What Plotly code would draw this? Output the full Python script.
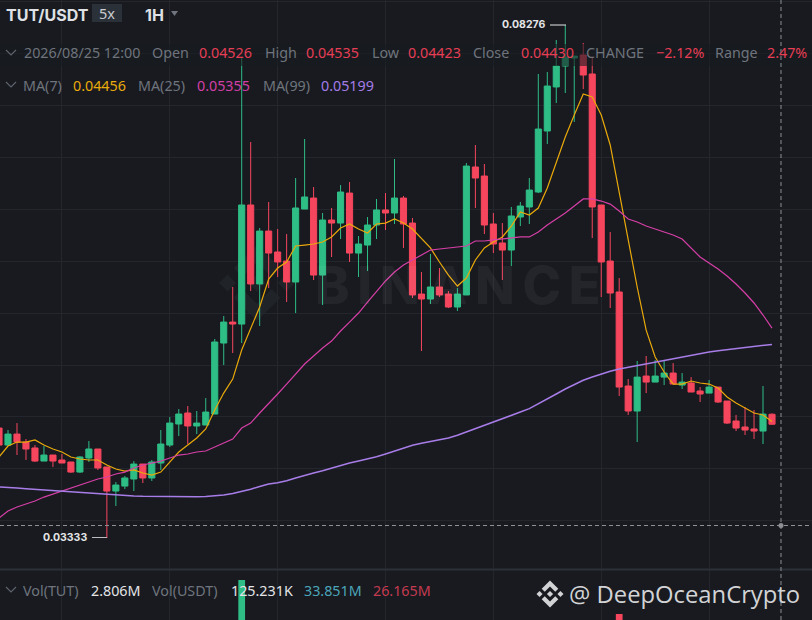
import plotly.graph_objects as go

W, H = 812, 620
BG = "#181a20"
GREEN = "#2ebd85"
RED = "#f6465d"
GRID = "#23272d"
FONT = "Noto Sans"

hours = list(range(-1, 86))

opens = [
    0.04393, 0.04229, 0.04335, 0.04258, 0.04201, 0.04075, 0.04133, 0.04085, 0.04066, 0.03969,
    0.04104, 0.04191, 0.04018, 0.03786, 0.03834, 0.03902, 0.04046, 0.03912, 0.04056, 0.04229,
    0.04432, 0.04538, 0.04413, 0.04422, 0.04528, 0.05212, 0.05414, 0.05395, 0.06542, 0.05781,
    0.06291, 0.06089, 0.06002, 0.05800, 0.06503, 0.06609, 0.05867, 0.06397, 0.06368, 0.06657,
    0.06079, 0.06156, 0.06349, 0.06494, 0.06465, 0.06609, 0.06368, 0.05684, 0.05636, 0.05752,
    0.05684, 0.05559, 0.05675, 0.06908, 0.06821, 0.06359, 0.06176, 0.06108, 0.06426, 0.06523,
    0.06667, 0.07255, 0.07679, 0.07881, 0.07958, 0.07987, 0.07804, 0.06542, 0.06002, 0.05704,
    0.04798, 0.04557, 0.04894, 0.04836, 0.04884, 0.04923, 0.04807, 0.04827, 0.04750, 0.04730,
    0.04788, 0.04653, 0.04461, 0.04403, 0.04384, 0.04364, 0.04526,
]
highs = [
    0.04422, 0.04374, 0.04441, 0.04287, 0.04229, 0.04220, 0.04133, 0.04143, 0.04066, 0.04123,
    0.04268, 0.04191, 0.04018, 0.03873, 0.03931, 0.04075, 0.04046, 0.04085, 0.04374, 0.04499,
    0.04576, 0.04605, 0.04557, 0.04682, 0.05251, 0.05472, 0.05752, 0.07958, 0.07149, 0.06320,
    0.06571, 0.06311, 0.06262, 0.06802, 0.07178, 0.06715, 0.06465, 0.06513, 0.06734, 0.06763,
    0.06243, 0.06426, 0.06600, 0.06657, 0.06985, 0.06629, 0.06417, 0.05896, 0.06070, 0.05935,
    0.05713, 0.05742, 0.06946, 0.07120, 0.06937, 0.06465, 0.06368, 0.06523, 0.06571, 0.06802,
    0.07804, 0.07823, 0.08132, 0.08276, 0.07977, 0.08103, 0.07968, 0.06542, 0.06282, 0.05838,
    0.04865, 0.05039, 0.05087, 0.05048, 0.05048, 0.05019, 0.04923, 0.04884, 0.04788, 0.04856,
    0.04788, 0.04653, 0.04519, 0.04596, 0.04567, 0.04798, 0.04535,
]
lows = [
    0.04210, 0.04220, 0.04133, 0.04085, 0.04066, 0.04075, 0.04018, 0.04056, 0.03960, 0.03960,
    0.04066, 0.03989, 0.03333, 0.03642, 0.03805, 0.03786, 0.03863, 0.03883, 0.03989, 0.04210,
    0.04316, 0.04239, 0.04335, 0.04422, 0.04528, 0.05000, 0.05116, 0.05212, 0.05713, 0.05376,
    0.05742, 0.05848, 0.05607, 0.05501, 0.06503, 0.05819, 0.05578, 0.06041, 0.06214, 0.05993,
    0.05848, 0.05906, 0.06214, 0.06301, 0.06359, 0.06128, 0.05646, 0.05135, 0.05588, 0.05655,
    0.05549, 0.05521, 0.05675, 0.06513, 0.06262, 0.06079, 0.05819, 0.05954, 0.06339, 0.06359,
    0.06657, 0.07130, 0.07525, 0.07621, 0.07342, 0.07659, 0.06224, 0.05655, 0.05549, 0.04702,
    0.04519, 0.04258, 0.04730, 0.04836, 0.04807, 0.04817, 0.04769, 0.04740, 0.04644, 0.04730,
    0.04634, 0.04432, 0.04364, 0.04326, 0.04287, 0.04239, 0.04423,
]
closes = [
    0.04229, 0.04335, 0.04258, 0.04191, 0.04075, 0.04133, 0.04075, 0.04056, 0.03969, 0.04114,
    0.04191, 0.04008, 0.03786, 0.03844, 0.03912, 0.04046, 0.03912, 0.04066, 0.04239, 0.04441,
    0.04528, 0.04413, 0.04441, 0.04547, 0.05222, 0.05414, 0.05395, 0.06542, 0.05781, 0.06291,
    0.06079, 0.05993, 0.05800, 0.06513, 0.06619, 0.05867, 0.06397, 0.06368, 0.06667, 0.06079,
    0.06166, 0.06349, 0.06494, 0.06465, 0.06609, 0.06359, 0.05675, 0.05636, 0.05752, 0.05675,
    0.05559, 0.05684, 0.06917, 0.06802, 0.06349, 0.06166, 0.06108, 0.06436, 0.06532, 0.06686,
    0.07274, 0.07688, 0.07881, 0.07968, 0.07977, 0.07794, 0.06523, 0.05993, 0.05694, 0.04788,
    0.04557, 0.04884, 0.04836, 0.04894, 0.04923, 0.04817, 0.04836, 0.04740, 0.04721, 0.04788,
    0.04644, 0.04441, 0.04393, 0.04374, 0.04364, 0.04528, 0.04430,
]

ma7 = [
    0.04114, 0.04220, 0.04258, 0.04258, 0.04278, 0.04229, 0.04191, 0.04162, 0.04114, 0.04095,
    0.04085, 0.04085, 0.04037, 0.03998, 0.03979, 0.03989, 0.03960, 0.03940, 0.03969, 0.04066,
    0.04162, 0.04229, 0.04297, 0.04384, 0.04567, 0.04730, 0.04865, 0.05145, 0.05357, 0.05559,
    0.05829, 0.05935, 0.05993, 0.06147, 0.06156, 0.06166, 0.06185, 0.06234, 0.06320, 0.06359,
    0.06311, 0.06272, 0.06359, 0.06368, 0.06407, 0.06368, 0.06311, 0.06224, 0.06128, 0.05993,
    0.05867, 0.05761, 0.05838, 0.06012, 0.06128, 0.06185, 0.06234, 0.06339, 0.06474, 0.06445,
    0.06513, 0.06706, 0.06956, 0.07197, 0.07409, 0.07611, 0.07582, 0.07409, 0.07120, 0.06657,
    0.06176, 0.05752, 0.05337, 0.05077, 0.04933, 0.04817, 0.04817, 0.04846, 0.04827, 0.04817,
    0.04779, 0.04692, 0.04634, 0.04586, 0.04538, 0.04519, 0.04456,
]
ma25 = [
    0.03526, 0.03594, 0.03632, 0.03661, 0.03690, 0.03728, 0.03757, 0.03786, 0.03815, 0.03844,
    0.03873, 0.03902, 0.03921, 0.03950, 0.03969, 0.04008, 0.04037, 0.04056, 0.04075, 0.04104,
    0.04133, 0.04143, 0.04162, 0.04172, 0.04210, 0.04249, 0.04287, 0.04393, 0.04441, 0.04538,
    0.04625, 0.04721, 0.04817, 0.04913, 0.05010, 0.05087, 0.05164, 0.05231, 0.05328, 0.05414,
    0.05501, 0.05607, 0.05704, 0.05810, 0.05896, 0.05964, 0.06012, 0.06060, 0.06108, 0.06118,
    0.06128, 0.06137, 0.06147, 0.06195, 0.06195, 0.06205, 0.06214, 0.06224, 0.06234, 0.06234,
    0.06282, 0.06349, 0.06407, 0.06465, 0.06532, 0.06600, 0.06600, 0.06580, 0.06551, 0.06484,
    0.06407, 0.06378, 0.06339, 0.06311, 0.06282, 0.06253, 0.06214, 0.06128, 0.06041, 0.05983,
    0.05925, 0.05858, 0.05781, 0.05694, 0.05598, 0.05482, 0.05355,
]
ma99 = [
    0.03825, 0.03822, 0.03815, 0.03808, 0.03802, 0.03796, 0.03790, 0.03784, 0.03777, 0.03770,
    0.03764, 0.03757, 0.03750, 0.03745, 0.03741, 0.03738, 0.03735, 0.03733, 0.03731, 0.03730,
    0.03729, 0.03729, 0.03730, 0.03733, 0.03738, 0.03747, 0.03763, 0.03782, 0.03804, 0.03830,
    0.03854, 0.03866, 0.03885, 0.03912, 0.03938, 0.03960, 0.03982, 0.04008, 0.04034, 0.04056,
    0.04076, 0.04095, 0.04116, 0.04143, 0.04172, 0.04201, 0.04227, 0.04246, 0.04262, 0.04278,
    0.04298, 0.04324, 0.04355, 0.04390, 0.04422, 0.04451, 0.04482, 0.04515, 0.04547, 0.04580,
    0.04625, 0.04673, 0.04721, 0.04769, 0.04815, 0.04853, 0.04884, 0.04913, 0.04940, 0.04962,
    0.04978, 0.04994, 0.05011, 0.05029, 0.05047, 0.05064, 0.05080, 0.05097, 0.05113, 0.05126,
    0.05137, 0.05147, 0.05156, 0.05166, 0.05176, 0.05188, 0.05199,
]

# only these two volume bars rise above the crop's bottom edge
volume_hours = [26, 68]
volume_values = [60, 26]
volume_colors = [GREEN, RED]

crosshair_hour = 86
crosshair_price = 0.03454


def px(x):
    return x / W


def py(y):
    return 1 - y / H


def label(x, y, text, color, size=14.3, weight=400, family=FONT):
    return dict(
        x=px(x - 1), y=py(y), xref="paper", yref="paper", text=text, showarrow=False,
        xanchor="left", yanchor="middle", borderpad=0,
        font=dict(family=family, size=size, color=color, weight=weight),
    )


def binance_logo(cx, cy, r):
    # logo outline on a 126.6 unit box centred on 63.3
    parts = [
        [(38.73, 53.2), (63.3, 28.63), (87.9, 53.22), (102.2, 38.92), (63.3, 0), (24.42, 38.9)],
        [(0, 63.31), (14.3, 49.01), (28.6, 63.31), (14.3, 77.61)],
        [(98, 63.31), (112.3, 49.01), (126.6, 63.31), (112.3, 77.61)],
        [(87.9, 73.4), (63.3, 98), (38.7, 73.4), (24.4, 87.7), (63.3, 126.6), (102.2, 87.7)],
        [(77.8, 63.3), (63.3, 48.8), (48.8, 63.3), (63.3, 77.8)],
    ]
    path = ""
    for part in parts:
        pts = [(px(cx + (a - 63.3) / 63.3 * r), py(cy + (b - 63.3) / 63.3 * r)) for a, b in part]
        path += "M" + " L".join(f"{a:.5f},{b:.5f}" for a, b in pts) + " Z "
    return path


GREY = "#6f747d"
LEGEND_RED = "#e63e55"

annotations = [
    label(6, 15, "TUT/USDT", "#dfe1e4", 16, 700, "Inter"),
    label(99, 13, "5x", "#c9ccd1", 14.5),
    label(145, 15, "1H", "#dfe1e4", 16, 700, "Inter"),
    label(24, 53, "2026/08/25 12:00", GREY),
    label(152, 53, "Open", GREY),
    label(199, 53, "0.04526", LEGEND_RED),
    label(265, 53, "High", GREY),
    label(306, 53, "0.04535", LEGEND_RED),
    label(372, 53, "Low", GREY),
    label(408, 53, "0.04423", LEGEND_RED),
    label(473, 53, "Close", GREY),
    label(521, 53, "0.04430", LEGEND_RED),
    label(586, 53, "CHANGE", GREY),
    label(656, 53, "−2.12%", LEGEND_RED),
    label(715, 53, "Range", GREY),
    label(767, 53, "2.47%", LEGEND_RED),
    label(23, 85, "MA(7)", GREY),
    label(73, 85, "0.04456", "#e8ab0b"),
    label(138, 85, "MA(25)", GREY),
    label(197, 85, "0.05355", "#d23fa5"),
    label(263, 85, "MA(99)", GREY),
    label(321, 85, "0.05199", "#a47ce8"),
    label(23, 590, "Vol(TUT)", GREY),
    label(91, 590, "2.806M", "#e4e5e7"),
    label(152, 590, "Vol(USDT)", GREY),
    label(231, 590, "125.231K", "#e4e5e7"),
    label(304, 590, "33.851M", "#4ba5b9"),
    label(373, 590, "26.165M", "#c63a50"),
    label(502, 25, "0.08276", "#e4e5e7", 10.5, 700, "Inter"),
    label(43, 537, "0.03333", "#e4e5e7", 10.5, 700, "Inter"),
    label(315, 285, "B\u2009I\u2009N\u2009A\u2009N\u2009C\u2009E", "rgba(255,255,255,0.05)", 52, 800, "Inter"),
    label(569, 594, "@ DeepOceanCrypto", "#d2d3d5", 23.8, 400, "Open Sans"),
]


def hline(x0, x1, y, color, width=1, dash="solid"):
    return dict(
        type="line", xref="paper", yref="paper", x0=px(x0), x1=px(x1), y0=py(y), y1=py(y),
        line=dict(color=color, width=width, dash=dash), layer="above",
    )


shapes = [
    # faint logo under the candles
    dict(type="path", xref="paper", yref="paper", path=binance_logo(257, 283, 38),
         fillcolor="#202328", line_width=0, layer="below"),
    # band that dims the candles behind the OHLC row
    dict(type="rect", xref="paper", yref="paper", x0=0, x1=1, y0=py(66), y1=py(44),
         fillcolor="rgba(24,26,32,0.6)", line_width=0, layer="above"),
    hline(0, W, 569.5, "#2c3037", 2),
    hline(550, 566, 25, "#e4e5e7", 1),
    hline(92, 107, 537.5, "#b9bbbf", 1),
    # 5x badge and timeframe caret
    dict(type="rect", xref="paper", yref="paper", x0=px(92), x1=px(122), y0=py(22), y1=py(4),
         fillcolor="#2b3139", line_width=0, layer="below"),
    dict(type="path", xref="paper", yref="paper",
         path=f"M{px(171)},{py(11)} L{px(178)},{py(11)} L{px(174.5)},{py(16)} Z",
         fillcolor="#6f747d", line_width=0, layer="above"),
    dict(type="path", xref="paper", yref="paper", path=binance_logo(550, 594, 13.5),
         fillcolor="#d2d3d5", line_width=0, layer="above"),
    # crosshair
    dict(type="line", xref="x", yref="paper", x0=crosshair_hour, x1=crosshair_hour, y0=0, y1=1,
         line=dict(color="#8d9096", width=1, dash="4px,3px"), layer="above"),
    dict(type="line", xref="paper", yref="y", x0=0, x1=1, y0=crosshair_price, y1=crosshair_price,
         line=dict(color="#8d9096", width=1, dash="4px,3px"), layer="above"),
]

# small chevrons in front of the legend rows
for cy in [53, 85, 590]:
    shapes.append(dict(
        type="path", xref="paper", yref="paper",
        path=f"M{px(6)},{py(cy - 3)} L{px(11)},{py(cy + 2)} L{px(16)},{py(cy - 3)}",
        line=dict(color="#5f646c", width=1.2), layer="above",
    ))

fig = go.Figure()
fig.add_trace(go.Candlestick(
    x=hours, open=opens, high=highs, low=lows, close=closes,
    increasing=dict(line=dict(color=GREEN, width=1), fillcolor=GREEN),
    decreasing=dict(line=dict(color=RED, width=1), fillcolor=RED),
    whiskerwidth=0, showlegend=False, hoverinfo="skip",
))
fig.add_trace(go.Scatter(x=hours, y=ma7, mode="lines", line=dict(color="#eaa90a", width=1.2), showlegend=False))
fig.add_trace(go.Scatter(x=hours, y=ma25, mode="lines", line=dict(color="#d63fa6", width=1.2), showlegend=False))
fig.add_trace(go.Scatter(x=hours, y=ma99, mode="lines", line=dict(color="#a87de8", width=1.5), showlegend=False))
fig.add_trace(go.Scatter(
    x=[crosshair_hour], y=[crosshair_price], mode="markers",
    marker=dict(color="#8d9096", size=5), showlegend=False,
))
fig.add_trace(go.Bar(
    x=volume_hours, y=volume_values, yaxis="y2", marker=dict(color=volume_colors, line_width=0),
    width=0.75, showlegend=False,
))

fig.update_layout(
    width=W, height=H, margin=dict(l=0, r=0, t=0, b=0), autosize=False,
    paper_bgcolor=BG, plot_bgcolor=BG, boxgap=0.32, boxgroupgap=0, showlegend=False,
    xaxis=dict(
        range=[-0.89, 89.45], rangeslider=dict(visible=False), showticklabels=False, ticks="",
        tick0=6, dtick=12, showgrid=True, gridcolor=GRID, gridwidth=1, zeroline=False,
        showline=False,
    ),
    yaxis=dict(
        domain=[py(569), 1], range=[0.03035, 0.08517], showticklabels=False, ticks="",
        tick0=0, dtick=0.005, showgrid=True, gridcolor=GRID, gridwidth=1, zeroline=False,
        showline=False,
    ),
    yaxis2=dict(
        domain=[0, py(569)], range=[20, 71], showticklabels=False, ticks="", showgrid=False,
        zeroline=False, showline=False,
    ),
    annotations=annotations, shapes=shapes,
)

fig.write_html(
    "out.html",
    config=dict(displayModeBar=False),
    post_script="document.body.style.margin='0';document.body.style.background='#181a20';",
)
